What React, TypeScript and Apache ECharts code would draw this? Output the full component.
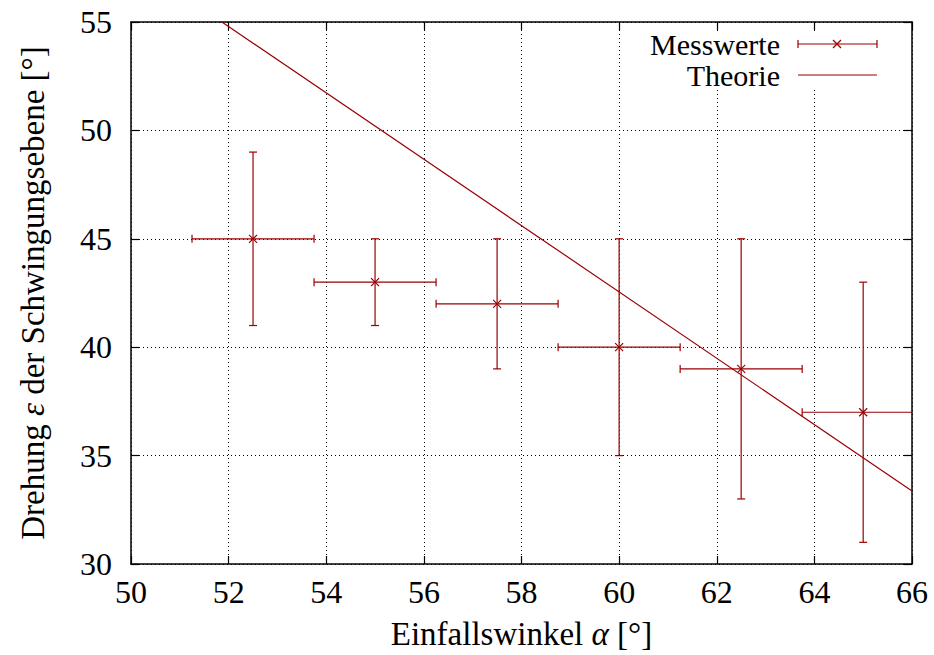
import React, { useEffect, useRef } from "react";
import * as echarts from "echarts";

const xValues = [52.5, 55, 57.5, 60, 62.5, 65];
const yValues = [45, 43, 42, 40, 39, 37];
const xErrors = [1.25, 1.25, 1.25, 1.25, 1.25, 1.25];
const yErrors = [4, 2, 3, 5, 6, 6];
const theoryX = [50, 66];
const theoryY = [57.85, 33.37];
const xTicks = { min: 50, max: 66, interval: 2 };
const yTicks = { min: 30, max: 55, interval: 5 };

const RED = "#990000";
const FONT = "serif";
const FS = 32;
const LFS = 30;
const NFS = 33;

export default function App() {
  const ref = useRef<HTMLDivElement>(null);
  useEffect(() => {
    if (!ref.current) return;
    const chart = echarts.init(ref.current, null, { renderer: "svg" });
    const measured = xValues.map((x, i) => [x, yValues[i], xErrors[i], yErrors[i]]);
    const theory = theoryX.map((x, i) => [x, theoryY[i]]);
    const frame = { show: true, onZero: false, lineStyle: { color: "#000", width: 1.5 } };
    const ticks = { show: true, inside: true, length: 8, lineStyle: { color: "#000", width: 1.2 } };
    const grid = { show: true, lineStyle: { color: "#000", width: 1, type: [1, 3] } };
    const label = { color: "#000", fontFamily: FONT, fontSize: FS };
    const lx = 798, rx = 877, ly1 = 44, ly2 = 75, cap = 4;
    const tStyle = (text: string, y: number) => ({
      type: "text", z: 6, x: 780, y,
      style: { text, fontFamily: FONT, fontSize: LFS, fill: "#000", align: "right", verticalAlign: "middle" },
    });
    const gLine = (x1: number, y1: number, x2: number, y2: number) => ({
      type: "line", z: 6, shape: { x1, y1, x2, y2 }, style: { stroke: RED, lineWidth: 1.2 },
    });
    const rich = {
      n: { fontFamily: FONT, fontSize: NFS, color: "#000" },
      i: { fontFamily: FONT, fontSize: NFS, color: "#000", fontStyle: "italic" },
    };
    const option: any = {
      animation: false,
      backgroundColor: "#fff",
      textStyle: { fontFamily: FONT },
      grid: { left: 131, right: 22, top: 22, bottom: 90, containLabel: false },
      xAxis: [
        {
          type: "value", ...xTicks, position: "bottom",
          axisLine: frame, axisTick: ticks, splitLine: grid,
          axisLabel: { ...label, margin: 12 },
          name: "{n|Einfallswinkel }{i|α}{n| [°]}",
          nameLocation: "middle", nameGap: 53,
          nameTextStyle: { fontFamily: FONT, fontSize: NFS, rich },
        },
        {
          type: "value", ...xTicks, position: "top",
          axisLine: frame, axisTick: ticks, splitLine: { show: false }, axisLabel: { show: false },
        },
      ],
      yAxis: [
        {
          type: "value", ...yTicks, position: "left",
          axisLine: frame, axisTick: ticks, splitLine: grid,
          axisLabel: { ...label, margin: 19 },
          name: "{n|Drehung }{i|ε}{n| der Schwingungsebene [°]}",
          nameLocation: "middle", nameGap: 82, nameRotate: 90,
          nameTextStyle: { fontFamily: FONT, fontSize: NFS, rich },
        },
        {
          type: "value", ...yTicks, position: "right",
          axisLine: frame, axisTick: ticks, splitLine: { show: false }, axisLabel: { show: false },
        },
      ],
      series: [
        {
          type: "line", name: "Theorie", data: theory, showSymbol: false, clip: true,
          xAxisIndex: 0, yAxisIndex: 0,
          lineStyle: { color: RED, width: 1.2 }, z: 3,
        },
        {
          type: "custom", name: "Messwerte", data: measured, clip: true,
          xAxisIndex: 0, yAxisIndex: 0, z: 4,
          renderItem: (params: any, api: any) => {
            const x = api.value(0), y = api.value(1), xe = api.value(2), ye = api.value(3);
            const c = api.coord([x, y]);
            const l = api.coord([x - xe, y]);
            const r = api.coord([x + xe, y]);
            const t = api.coord([x, y + ye]);
            const b = api.coord([x, y - ye]);
            const st = { stroke: RED, lineWidth: 1.2 };
            const ln = (x1: number, y1: number, x2: number, y2: number) => ({
              type: "line", shape: { x1, y1, x2, y2 }, style: st,
            });
            const m = 4;
            return {
              type: "group",
              children: [
                ln(l[0], l[1], r[0], r[1]),
                ln(l[0], l[1] - cap, l[0], l[1] + cap),
                ln(r[0], r[1] - cap, r[0], r[1] + cap),
                ln(t[0], t[1], b[0], b[1]),
                ln(t[0] - cap, t[1], t[0] + cap, t[1]),
                ln(b[0] - cap, b[1], b[0] + cap, b[1]),
                ln(c[0] - m, c[1] - m, c[0] + m, c[1] + m),
                ln(c[0] - m, c[1] + m, c[0] + m, c[1] - m),
              ],
            };
          },
        },
      ],
      graphic: [
        { type: "rect", z: 5, shape: { x: 628, y: 31, width: 272, height: 58 }, style: { fill: "#fff" } },
        tStyle("Messwerte", ly1),
        tStyle("Theorie", ly2),
        gLine(lx, ly1, rx, ly1),
        gLine(lx, ly1 - cap, lx, ly1 + cap),
        gLine(rx, ly1 - cap, rx, ly1 + cap),
        gLine(833, ly1 - 4, 841, ly1 + 4),
        gLine(833, ly1 + 4, 841, ly1 - 4),
        gLine(lx, ly2, rx, ly2),
      ],
    };
    chart.setOption(option);
    return () => chart.dispose();
  }, []);
  return (
    <div id="chartbox" style={{ position: "absolute", left: 0, top: 0, width: 934, height: 655, fontFamily: "serif" }}>
      <style>{`#chartbox svg text, #chartbox svg tspan { font-family: serif !important; }`}</style>
      <div ref={ref} style={{ width: 934, height: 655 }} />
    </div>
  );
}
